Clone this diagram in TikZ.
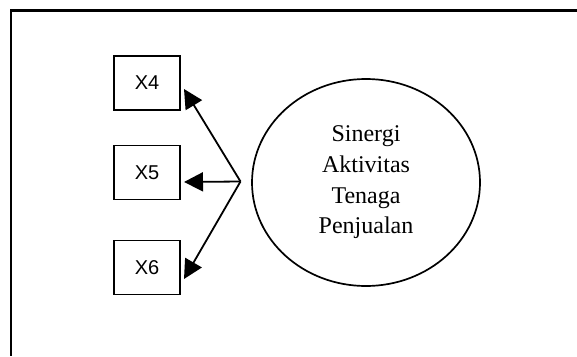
\documentclass[tikz,border=0pt]{standalone}
\usepackage{fontspec}
\setmainfont{Liberation Serif}
\newfontfamily\labelfont{Liberation Sans}
\usetikzlibrary{arrows.meta,shapes.geometric}
\begin{document}
\begin{tikzpicture}[x=1pt,y=-1pt,
  indicator/.style={draw,line width=1.7pt,minimum width=66pt,minimum height=54pt,
    inner sep=0pt,font=\labelfont\fontsize{20}{22}\selectfont},
  construct/.style={draw,ellipse,line width=1.7pt,minimum width=228pt,minimum height=207pt,
    inner sep=0pt,align=center,font=\fontsize{24}{30.7}\selectfont},
  loading/.style={line width=1.8pt,-{Triangle[length=19pt,width=19pt]}}]
  % page size
  \useasboundingbox (0,0) rectangle (577,356);
  % outer frame, open to the right and bottom
  \draw[line width=2.2pt] (577,10.5) -- (11,10.5) -- (11,356);
  % indicators
  \node[indicator] (x4) at (147,83) {X4};
  \node[indicator] (x5) at (147,172.5) {X5};
  \node[indicator] (x6) at (147,267.5) {X6};
  % latent variable
  \node[construct] (sat) at (366,182.5) {Sinergi\\Aktivitas\\Tenaga\\Penjualan};
  % loadings from a common point
  \coordinate (j) at (240.5,181.5);
  \coordinate (t4) at (184,89);
  \coordinate (t5) at (184,182);
  \coordinate (t6) at (184,279);
  \draw[loading] (j) -- (t4);
  \draw[loading] (j) -- (t5);
  \draw[loading] (j) -- (t6);
\end{tikzpicture}
\end{document}
